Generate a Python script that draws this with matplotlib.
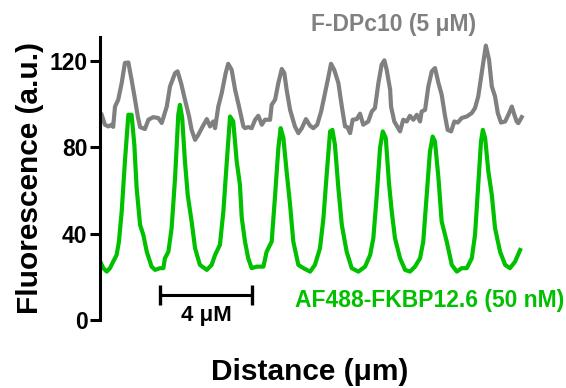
import numpy as np
import matplotlib
matplotlib.use("Agg")
import matplotlib.pyplot as plt

plt.rcParams['font.family'] = ['Liberation Sans', 'DejaVu Sans']
plt.rcParams['font.weight'] = 'bold'

# F-DPc10 profile (gray): distance in um, fluorescence in a.u.
dpc_x = [0.03, 0.17, 0.32, 0.47, 0.53, 0.61, 0.75, 0.90, 1.04, 1.19, 1.33, 1.48, 1.60, 1.70,
         1.91, 2.06, 2.27, 2.49, 2.64, 2.86, 3.00, 3.22, 3.33, 3.48, 3.65, 3.83, 3.94, 4.09,
         4.23, 4.38, 4.60, 4.74, 4.88, 4.96, 5.10, 5.25, 5.42, 5.53, 5.68, 5.83, 6.00, 6.19,
         6.26, 6.40, 6.55, 6.70, 6.84, 6.99, 7.13, 7.35, 7.42, 7.57, 7.71, 7.86, 7.97, 8.07,
         8.22, 8.43, 8.58, 8.73, 8.91, 9.09, 9.23, 9.40, 9.57, 9.74, 9.86, 10.00, 10.14, 10.32,
         10.47, 10.61, 10.71, 10.83, 10.94, 11.12, 11.26, 11.40, 11.62, 11.77, 11.91, 12.06,
         12.20, 12.32, 12.42, 12.57, 12.61, 12.75, 13.00, 13.14, 13.29, 13.43, 13.58, 13.73,
         13.87, 13.94, 14.09, 14.23, 14.38, 14.52, 14.67, 14.81, 14.96, 15.07, 15.22, 15.36,
         15.51, 15.68, 15.90, 16.12, 16.26, 16.40, 16.55, 16.73, 16.87, 16.99, 17.13, 17.25,
         17.39, 17.57, 17.71, 17.86, 17.97, 18.07, 18.14, 18.29]
dpc_y = [95.0, 90.4, 89.6, 90.4, 89.4, 98.8, 102.0, 109.7, 119.0, 119.2, 111.2, 102.0, 94.2, 89.3,
         88.4, 92.7, 93.9, 93.5, 91.2, 98.8, 108.1, 114.3, 115.1, 109.7, 102.0, 94.2, 88.0, 83.4,
         85.7, 88.8, 93.0, 89.6, 91.9, 88.8, 98.8, 105.1, 114.3, 118.6, 115.8, 106.6, 98.8, 89.6,
         88.8, 89.3, 88.8, 92.7, 94.5, 90.4, 92.7, 92.7, 99.6, 102.0, 109.7, 116.2, 114.3, 106.6,
         97.3, 89.6, 86.5, 88.8, 93.0, 89.9, 88.8, 90.4, 96.5, 105.1, 111.2, 118.6, 115.8, 109.7,
         98.8, 89.6, 89.3, 86.5, 92.7, 93.0, 95.5, 90.4, 91.9, 96.5, 98.1, 109.7,
         118.2, 120.2, 115.8, 106.6, 98.8, 91.9, 87.3, 92.7, 91.9, 94.5, 92.7, 95.0,
         91.9, 96.5, 97.3, 108.1, 115.1, 116.6, 109.7, 104.3, 94.2, 88.0, 87.3, 91.9,
         91.4, 93.5, 94.2, 95.8, 98.1, 103.5, 114.3, 127.0, 120.5, 108.1, 103.5, 95.8,
         91.4, 91.9, 95.0, 98.8, 95.0, 91.9, 91.1, 93.9]

# AF488-FKBP12.6 profile (green)
fkbp_x = [0.00, 0.10, 0.25, 0.39, 0.53, 0.68, 0.78, 0.90, 1.04, 1.19, 1.33, 1.45, 1.55, 1.70,
          1.84, 1.99, 2.20, 2.35, 2.57, 2.71, 2.78, 2.93, 3.07, 3.22, 3.36, 3.43, 3.53, 3.65,
          3.77, 3.94, 4.09, 4.30, 4.60, 4.81, 4.96, 5.17, 5.32, 5.47, 5.61, 5.75, 5.90, 6.04,
          6.12, 6.26, 6.40, 6.55, 6.77, 7.06, 7.20, 7.42, 7.57, 7.71, 7.81, 7.93, 8.07, 8.22,
          8.36, 8.58, 8.80, 9.09, 9.30, 9.52, 9.67, 9.81, 9.96, 10.06, 10.17, 10.32, 10.47,
          10.68, 10.90, 11.19, 11.48, 11.70, 11.84, 11.99, 12.13, 12.25, 12.38, 12.52, 12.64,
          12.78, 13.00, 13.22, 13.43, 13.65, 13.87, 14.01, 14.16, 14.30, 14.42, 14.52, 14.67,
          14.81, 15.03, 15.25, 15.47, 15.68, 15.90, 16.12, 16.26, 16.40, 16.52, 16.60, 16.70,
          16.84, 16.99, 17.13, 17.35, 17.57, 17.78, 18.00, 18.22]
fkbp_y = [26.3, 24.0, 22.4, 24.0, 27.0, 30.1, 36.3, 50.2, 73.4, 95.0, 95.0, 81.1, 61.0, 44.0,
          39.4, 31.6, 24.7, 23.2, 24.0, 24.0, 28.6, 31.6, 42.5, 65.7, 95.0, 99.6, 93.5, 73.4,
          57.9, 45.6, 33.2, 25.5, 23.2, 25.5, 30.1, 34.8, 50.2, 73.4, 94.2, 91.9, 73.4, 62.6,
          47.3, 36.3, 28.6, 24.0, 24.7, 24.7, 31.6, 36.3, 57.9, 79.6, 88.8, 84.2, 68.7, 53.3,
          36.3, 25.5, 24.0, 22.4, 25.5, 33.2, 47.1, 67.2, 87.3, 88.0, 81.1, 61.0, 44.0,
          31.6, 24.0, 22.4, 24.7, 30.1, 37.9, 57.9, 79.6, 87.3, 84.2, 63.3, 50.2,
          37.9, 28.6, 23.2, 22.4, 24.7, 28.6, 36.3, 57.9, 78.0, 84.9, 82.6, 65.7,
          45.6, 36.3, 25.5, 22.4, 24.0, 24.0, 28.6, 39.4, 62.6, 82.6, 88.0, 84.2,
          68.7, 57.9, 42.5, 31.6, 25.5, 24.0, 27.0, 32.4]

y_ticks = [0, 40, 80, 120]
bar_start = 2.57   # um
bar_len = 4.0      # um
bar_level = 11.6   # a.u.

gray = '#808080'
green = '#00c000'

fig = plt.figure(figsize=(5.66, 3.88), dpi=100)
ax = fig.add_axes([100 / 566, 1 - 320 / 388, 430 / 566, 283 / 388])

ax.plot(dpc_x, dpc_y, color=gray, lw=3, solid_joinstyle='round')
ax.plot(fkbp_x, fkbp_y, color=green, lw=3, solid_joinstyle='round')

# scale bar
ax.plot([bar_start, bar_start + bar_len], [bar_level, bar_level], color='black', lw=2.2,
        marker='|', markersize=15, mew=2.4, solid_capstyle='butt', clip_on=False)
ax.text(bar_start + bar_len / 2, bar_level - 4.5, '4 μM', ha='center', va='top',
        fontsize=16, fontweight='bold')

ax.set_xlim(-0.043, 18.65)
ax.set_ylim(0, 131)
ax.set_yticks(y_ticks)
ax.set_xticks([])
for s in ['top', 'right', 'bottom']:
    ax.spines[s].set_visible(False)
ax.spines['left'].set_linewidth(2.2)
ax.tick_params(axis='y', length=7, width=2.2, labelsize=16.5, pad=2)
for lab in ax.get_yticklabels():
    lab.set_fontweight('bold')

ax.set_ylabel('Fluorescence (a.u.)', fontsize=21.5, fontweight='bold', labelpad=4)
fig.text(310 / 566, 1 - 372 / 388, 'Distance (μm)', ha='center', va='center',
         fontsize=21.5, fontweight='bold')

fig.text(394 / 566, 1 - 24 / 388, 'F-DPc10 (5 μM)', ha='center', va='center',
         fontsize=16.5, fontweight='bold', color=gray)
fig.text(430 / 566, 1 - 301 / 388, 'AF488-FKBP12.6 (50 nM)', ha='center', va='center',
         fontsize=16.5, fontweight='bold', color=green)

fig.savefig('out.png', dpi=100)
